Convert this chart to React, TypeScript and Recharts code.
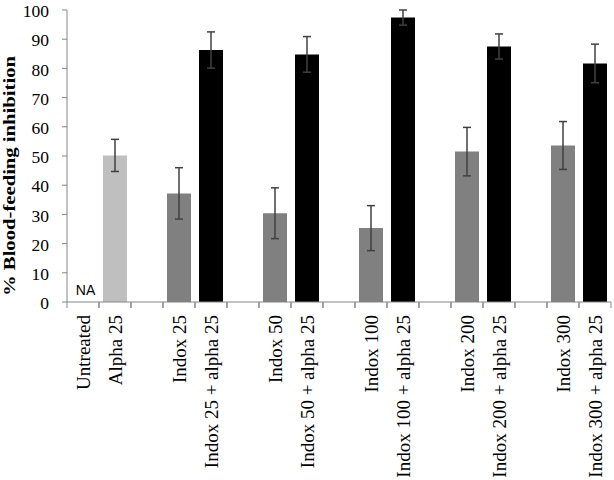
import React from 'react';
import { BarChart, Bar, XAxis, YAxis, ErrorBar, Cell } from 'recharts';

const categories = [
  'Untreated', 'Alpha 25', '',
  'Indox 25', 'Indox 25 + alpha 25', '',
  'Indox 50', 'Indox 50 + alpha 25', '',
  'Indox 100', 'Indox 100 + alpha 25', '',
  'Indox 200', 'Indox 200 + alpha 25', '',
  'Indox 300', 'Indox 300 + alpha 25',
];
const kinds = [
  'none', 'alpha', 'none',
  'indox', 'combo', 'none',
  'indox', 'combo', 'none',
  'indox', 'combo', 'none',
  'indox', 'combo', 'none',
  'indox', 'combo',
];
const inhibition: (number | null)[] = [
  null, 50.2, null,
  37.2, 86.3, null,
  30.4, 84.8, null,
  25.3, 97.4, null,
  51.5, 87.5, null,
  53.6, 81.7,
];
const errors: (number | null)[] = [
  null, 5.5, null,
  8.8, 6.2, null,
  8.7, 6.1, null,
  7.7, 2.6, null,
  8.3, 4.3, null,
  8.2, 6.6,
];
const notes = ['NA', '', '', '', '', '', '', '', '', '', '', '', '', '', '', '', ''];
const yTicks = [0, 10, 20, 30, 40, 50, 60, 70, 80, 90, 100];
const yLabel = '% Blood-feeding inhibition';

const kindColor: Record<string, string> = {
  none: '#ffffff',
  alpha: '#bfbfbf',
  indox: '#808080',
  combo: '#000000',
};

const data = categories.map((name, i) => ({
  name,
  kind: kinds[i],
  value: inhibition[i],
  err: errors[i],
  note: notes[i],
}));

const CHART_W = 614;
const CHART_H = 480;
const Y_AXIS_W = 67;
const RIGHT = 3;
const PLOT_W = CHART_W - Y_AXIS_W - RIGHT;
const BAND = PLOT_W / categories.length;
const Y_LABEL_END = Y_AXIS_W - 5 - 13;
const AXIS_COLOR = '#868686';
const SERIF = '"Liberation Serif", "Times New Roman", serif';
const SANS = '"Liberation Sans", Arial, sans-serif';

const XTick = (props: any) => {
  const { x, y, payload } = props;
  const label = payload?.value ?? '';
  const idx = payload?.index ?? -1;
  const note = idx >= 0 ? notes[idx] : '';
  return (
    <g>
      <line x1={x - BAND / 2} y1={y} x2={x - BAND / 2} y2={y + 6} stroke={AXIS_COLOR} />
      <line x1={x + BAND / 2} y1={y} x2={x + BAND / 2} y2={y + 6} stroke={AXIS_COLOR} />
      {note ? (
        <text x={x + 2.5} y={y - 7} textAnchor="middle" fontFamily={SANS} fontSize={14} fill="#000">
          {note}
        </text>
      ) : null}
      {label ? (
        <text
          transform={`translate(${x},${y + 13}) rotate(-90)`}
          textAnchor="end"
          dy="0.35em"
          fontFamily={SERIF}
          fontSize={19}
          fill="#000"
        >
          {label}
        </text>
      ) : null}
    </g>
  );
};

const YTick = (props: any) => {
  const { y, payload } = props;
  return (
    <text x={Y_LABEL_END} y={y + 1} dy="0.35em" textAnchor="end" fontFamily={SERIF} fontSize={17.5} fill="#000">
      {payload?.value}
    </text>
  );
};

const YLabel = (props: any) => {
  const vb = props.viewBox || {};
  const cy = Number(vb.y) + Number(vb.height) / 2 + 20;
  return (
    <text
      transform={`translate(15,${cy}) rotate(-90)`}
      textAnchor="middle"
      fontFamily={SERIF}
      fontSize={17}
      fontWeight="bold"
      textLength={240}
      lengthAdjust="spacingAndGlyphs"
      fill="#000"
    >
      {yLabel}
    </text>
  );
};

export default function App() {
  return (
    <div style={{ position: 'absolute', left: 0, top: 0, width: CHART_W, height: CHART_H, background: '#fff' }}>
      <BarChart
        width={CHART_W}
        height={CHART_H}
        data={data}
        margin={{ top: 10, right: RIGHT, left: 0, bottom: 0 }}
        barCategoryGap={0}
      >
        <XAxis
          dataKey="name"
          interval={0}
          tickLine={false}
          tickSize={0}
          tickMargin={0}
          height={178}
          axisLine={{ stroke: AXIS_COLOR }}
          tick={<XTick />}
        />
        <YAxis
          width={Y_AXIS_W}
          domain={[0, 100]}
          ticks={yTicks}
          interval={0}
          tickSize={5}
          tickMargin={13}
          axisLine={{ stroke: AXIS_COLOR }}
          tickLine={{ stroke: AXIS_COLOR }}
          tick={<YTick />}
          label={<YLabel />}
        />
        <Bar dataKey="value" barSize={24} isAnimationActive={false}>
          {data.map((d, i) => (
            <Cell key={i} fill={kindColor[d.kind]} />
          ))}
          <ErrorBar dataKey="err" width={4} stroke="#404040" strokeWidth={1.5} />
        </Bar>
      </BarChart>
    </div>
  );
}
